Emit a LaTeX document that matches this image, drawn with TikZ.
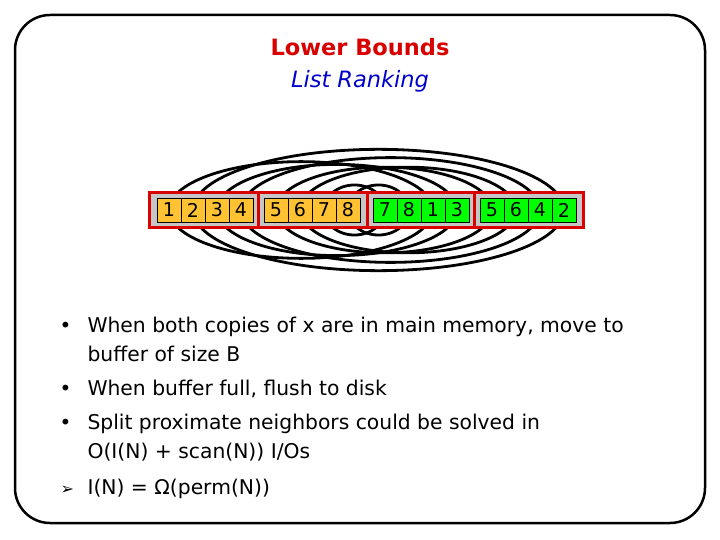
\documentclass[tikz,border=0pt]{standalone}
\usepackage{fontspec}
\setmainfont{DejaVu Sans}
\newfontfamily\dvs{DejaVu Sans}
\begin{document}
\begin{tikzpicture}[x=1pt,y=-1pt,
  cell/.style={draw=black,line width=0.6pt,minimum width=24pt,minimum height=24pt,inner sep=0pt,font=\fontsize{19}{19}\selectfont},
  og/.style={cell,fill=orange!60!yellow!80},
  gr/.style={cell,fill=green},
  arc/.style={line width=2.8pt,black},
  txt/.style={anchor=base west,font=\fontsize{20.3}{24}\selectfont}]
\useasboundingbox (0,0) rectangle (720,540);
\draw[line width=2.5pt,rounded corners=35pt] (15,15) rectangle (705,523);
\node[red!85!black,font=\bfseries\fontsize{22.5}{26}\selectfont] (t1) at (360,47) {Lower Bounds};
\node[blue!80!black,font=\itshape\fontsize{22.5}{26}\selectfont] (t2) at (360,81) {List Ranking};
% arcs (ellipses through equal values)
\foreach \xa/\xb in {169/433,193/564,217/457,241/540,276/492,300/516,324/385,348/409}{
  \pgfmathsetmacro\cx{(\xa+\xb)/2}
  \pgfmathsetmacro\ra{(\xb-\xa)/2}
  \pgfmathsetmacro\rb{18+\ra*0.23}
  \draw[arc] (\cx,210) ellipse [x radius=\ra, y radius=\rb];
}
% buffers
\draw[red!85!black,fill=gray!45,line width=3pt] (149,193) rectangle (583,228);
\foreach \s in {258,367,474}{\draw[red!85!black,line width=3pt] (\s,193) -- (\s,228);}
\foreach \v [count=\i from 0] in {1,2,3,4}{\node[og] (a\i) at (169+24*\i,210) {\v};}
\foreach \v [count=\i from 0] in {5,6,7,8}{\node[og] (b\i) at (276+24*\i,210) {\v};}
\foreach \v [count=\i from 0] in {7,8,1,3}{\node[gr] (c\i) at (385+24*\i,210) {\v};}
\foreach \v [count=\i from 0] in {5,6,4,2}{\node[gr] (d\i) at (492+24*\i,210) {\v};}
% text
\foreach \y/\b in {332/{•},395/{•},429/{•}}{\node[anchor=base west,font=\fontsize{20}{24}\selectfont] at (56,\y) {\b};}
\node[anchor=base west,font=\dvs\fontsize{16}{24}\selectfont] (ar) at (57,494) {➢};
\node[txt] (l1) at (84,332) {When both copies of x are in main memory, move to};
\node[txt] (l2) at (84,361) {buffer of size B};
\node[txt] (l3) at (84,395) {When buffer full, flush to disk};
\node[txt] (l4) at (84,429) {Split proximate neighbors could be solved in};
\node[txt] (l5) at (84,458) {O(I(N) + scan(N)) I/Os};
\node[txt] (l6) at (84,494) {I(N) = Ω(perm(N))};
\end{tikzpicture}
\end{document}
